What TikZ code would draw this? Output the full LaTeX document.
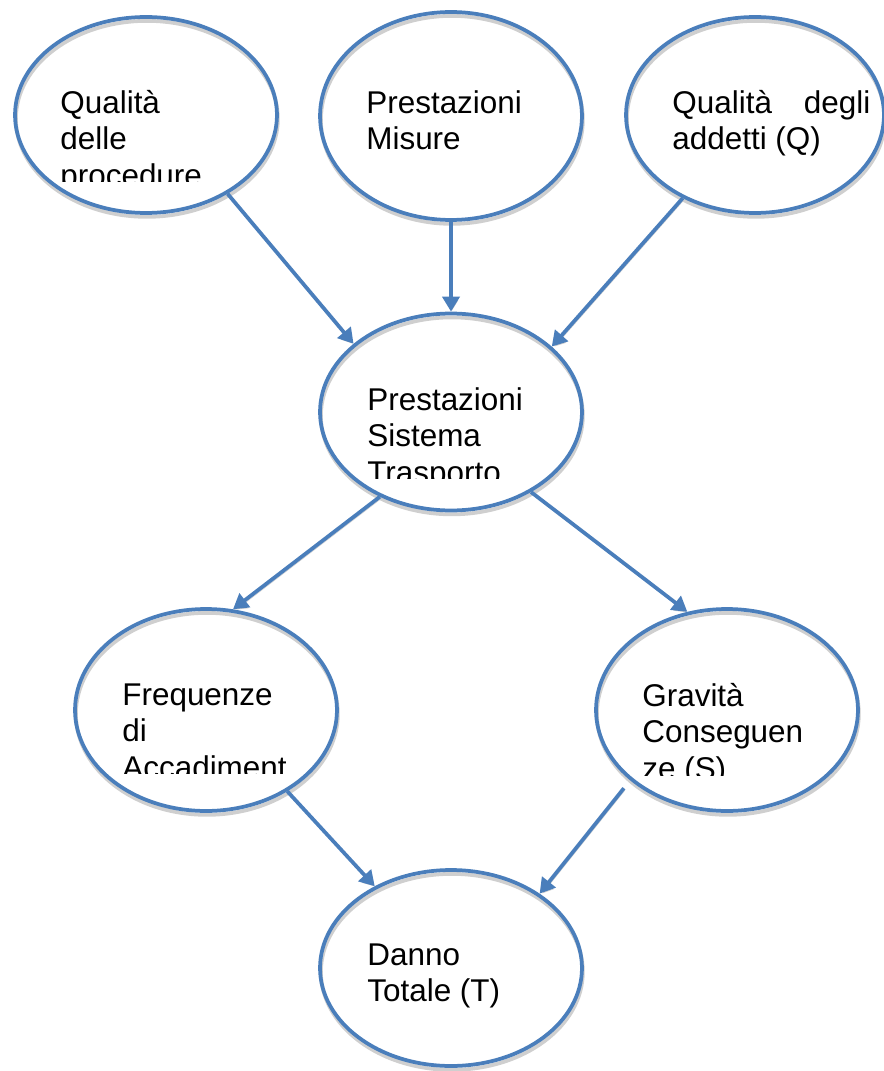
\documentclass[tikz,border=0pt]{standalone}
\usepackage{fontspec}
\setmainfont{Liberation Sans}
\usepackage{tikz}
\usetikzlibrary{arrows.meta,shapes.geometric}
\definecolor{wordBlue}{HTML}{4A7EBB}
\definecolor{wordShade}{HTML}{CFCFCF}
\tikzset{
  bubble/.style={ellipse, draw=wordBlue, line width=0.075cm, inner sep=0pt,
    minimum width=5.24cm, minimum height=3.92cm,
    preaction={draw=wordShade, line width=0.075cm,
      transform canvas={xshift=0.5pt, yshift=-2.2pt}}},
  link/.style={-{Triangle[length=0.3cm, width=0.34cm]}, draw=wordBlue,
    line width=0.075cm,
    preaction={draw=wordShade, transform canvas={xshift=0.5pt, yshift=-1.2pt}}},
  bubble text/.style={anchor=north west, inner sep=0pt, align=left,
    font=\fontsize{17.9}{20.9}\selectfont}
}

\begin{document}
\begin{tikzpicture}[x=0.02cm, y=-0.02cm]
  \useasboundingbox (0,0) rectangle (884,1071);
  % ellipses
  \node[bubble] (qp) at (146,115) {};
  \node[bubble, minimum height=4.16cm] (pm) at (451,116) {};
  \node[bubble, minimum width=5.16cm] (qa) at (755,115) {};
  \node[bubble, minimum height=3.94cm] (ps) at (451,412) {};
  \node[bubble, minimum height=4.04cm] (fa) at (206,710) {};
  \node[bubble, minimum height=4.04cm] (gc) at (727,710) {};
  \node[bubble] (dt) at (451,968) {};

  % texts (third lines cut off by their boxes)
  \begin{scope}
    \clip (40,60) rectangle (290,182);
    \node[bubble text] (qpt) at (60,87) {\strut Qualità\\delle\\procedure};
  \end{scope}
  \node[bubble text] (pmt) at (366,87) {\strut Prestazioni\\Misure};
  \node[bubble text] (qat) at (672,87)
    {\strut\hbox to 3.96cm{Qualità\hfill degli}\\addetti (Q)};
  \begin{scope}
    \clip (340,360) rectangle (570,478);
    \node[bubble text] (pst) at (367,384) {\strut Prestazioni\\Sistema\\Trasporto};
  \end{scope}
  \begin{scope}
    \clip (100,655) rectangle (330,773);
    \node[bubble text] (fat) at (122,679) {\strut Frequenze\\di\\Accadiment};
  \end{scope}
  \begin{scope}
    \clip (620,655) rectangle (850,775);
    \node[bubble text] (gct) at (642,680) {\strut Gravità\\Conseguen\\ze (S)};
  \end{scope}
  \node[bubble text] (dtt) at (367,939) {\strut Danno\\Totale (T)};

  % arrows
  \draw[link] (qp.-44.7) -- (ps.145.8);
  \draw[link] (pm.south) -- (ps.north);
  \draw[link] (qa.-131.4) -- (ps.33.4);
  \draw[link] (ps.-130.3) -- (fa.75.8);
  \draw[link] (ps.-45.3) -- (gc.112.2);
  \draw[link] (fa.-45.3) -- (dt.133.1);
  \draw[link, shorten <=0.2cm] (gc.-144.3) -- (dt.40.3);
\end{tikzpicture}
\end{document}
